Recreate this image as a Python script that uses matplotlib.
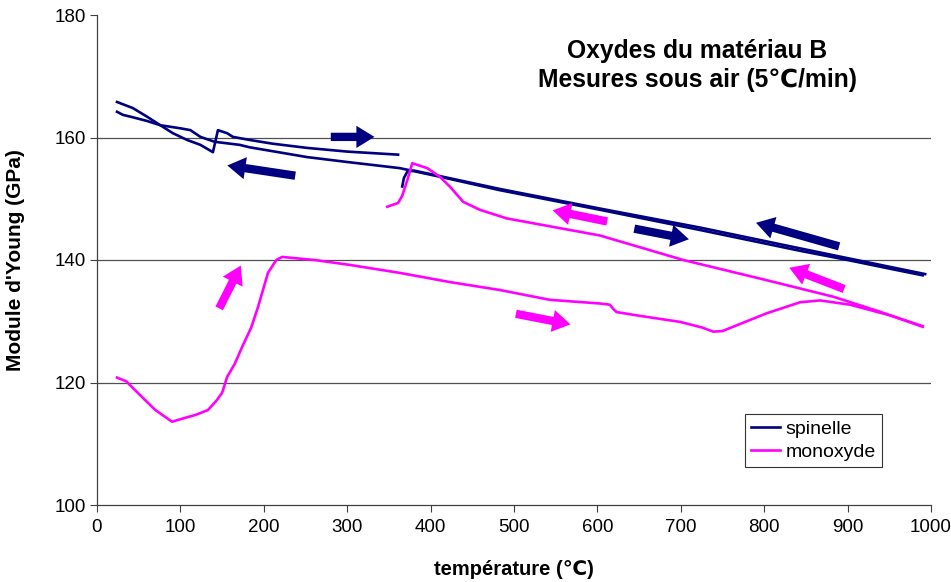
import matplotlib
matplotlib.use("Agg")
import matplotlib.pyplot as plt
from matplotlib.patches import FancyArrowPatch

plt.rcParams['font.family'] = ['Liberation Sans', 'DejaVu Sans']

# ---- data ----
sp_heat1_T = [24, 43, 60, 76, 91, 108, 124, 139, 145, 156, 163, 183, 210, 252, 300, 361]
sp_heat1_E = [165.8, 164.8, 163.4, 162.0, 160.7, 159.6, 158.8, 157.6, 161.2, 160.7, 160.1, 159.6, 159.0, 158.3, 157.7, 157.2]

sp_heat2_T = [366, 368, 372, 380, 411, 483, 603, 723, 843, 900, 950, 993]
sp_heat2_E = [152.0, 153.4, 154.4, 154.6, 153.7, 151.6, 148.4, 145.3, 141.9, 140.3, 138.9, 137.7]

sp_cool_T = [24, 31, 43, 60, 76, 100, 112, 124, 141, 171, 183, 252, 300, 363, 411, 483, 603, 723, 843, 900, 950, 990]
sp_cool_E = [164.2, 163.7, 163.3, 162.7, 162.0, 161.5, 161.2, 160.1, 159.3, 158.8, 158.4, 156.8, 156.0, 155.0, 153.6, 151.4, 148.2, 144.9, 141.5, 140.0, 138.6, 137.5]

mo_heat_T = [24, 35, 49, 70, 90, 105, 118, 133, 143, 150, 156, 165, 174, 185, 193, 205, 215, 222, 237, 261,
             303, 363, 423, 483, 543, 603, 615, 619, 623, 650, 699, 725, 739, 750, 759, 803, 843, 867, 903, 950, 990]
mo_heat_E = [120.8, 120.2, 118.3, 115.5, 113.6, 114.2, 114.7, 115.5, 117.0, 118.3, 120.9, 123.0, 125.8, 129.0, 132.3,
             137.9, 140.0, 140.5, 140.3, 140.0, 139.2, 137.9, 136.4, 135.1, 133.5, 132.9, 132.7, 132.0, 131.5, 130.9,
             129.9, 129.0, 128.3, 128.4, 128.9, 131.3, 133.1, 133.4, 132.7, 131.0, 129.2]

mo_cool_T = [348, 361, 366, 372, 378, 396, 411, 423, 439, 459, 491, 543, 603, 703, 803, 883, 940, 990]
mo_cool_E = [148.7, 149.3, 150.5, 153.0, 155.8, 155.0, 153.6, 152.0, 149.5, 148.2, 146.8, 145.5, 144.0, 140.0, 136.7, 134.0, 131.5, 129.1]

# direction arrows (tail T, tail E, head T, head E, colour key)
arrows = [
    (277, 160.1, 336, 160.1, 'sp'),
    (241, 153.7, 153, 155.5, 'sp'),
    (641, 145.2, 713, 143.3, 'sp'),
    (893, 142.1, 787, 146.2, 'sp'),
    (145, 131.7, 174, 139.5, 'mo'),
    (615, 146.2, 543, 148.2, 'mo'),
    (899, 135.1, 827, 138.9, 'mo'),
    (499, 131.3, 571, 129.4, 'mo'),
]

colors = {'sp': '#000080', 'mo': '#FF00FF'}

fig = plt.figure(figsize=(9.51, 5.82), dpi=100)
ax = fig.add_axes([97/951, 77/582, 834/951, 490/582])

lw = 1.9
ax.plot(sp_heat1_T, sp_heat1_E, color=colors['sp'], lw=lw, label='spinelle', zorder=3)
ax.plot(sp_heat2_T, sp_heat2_E, color=colors['sp'], lw=lw, zorder=3)
ax.plot(sp_cool_T, sp_cool_E, color=colors['sp'], lw=lw, zorder=3)
ax.plot(mo_heat_T, mo_heat_E, color=colors['mo'], lw=lw, label='monoxyde', zorder=3)
ax.plot(mo_cool_T, mo_cool_E, color=colors['mo'], lw=lw, zorder=3)

for t0, e0, t1, e1, k in arrows:
    a = FancyArrowPatch((t0, e0), (t1, e1),
                        arrowstyle='simple,head_length=13,head_width=16,tail_width=6',
                        mutation_scale=1, color=colors[k], lw=0, zorder=4)
    ax.add_patch(a)

ax.set_xlim(0, 1000)
ax.set_ylim(100, 180)
ax.set_xticks(range(0, 1001, 100))
ax.set_yticks(range(100, 181, 20))
ax.tick_params(axis='both', direction='out', length=5, width=0.8, color='#404040', labelsize=13.5)
ax.tick_params(axis='x', pad=5)
ax.tick_params(axis='y', pad=3)
for s in ['top', 'right']:
    ax.spines[s].set_visible(False)
for s in ['left', 'bottom']:
    ax.spines[s].set_color('#404040')
    ax.spines[s].set_linewidth(0.9)
for y in [120, 140, 160]:
    ax.axhline(y, color='#505050', lw=0.9, zorder=1)

ax.set_xlabel('température (℃)', fontsize=14.5, fontweight='bold')
ax.set_ylabel("Module d'Young (GPa)", fontsize=15, fontweight='bold')
ax.xaxis.set_label_coords(0.5, -0.112)
ax.yaxis.set_label_coords(-0.086, 0.5)

ax.text(0.72, 0.897, 'Oxydes du matériau B\nMesures sous air (5℃/min)', transform=ax.transAxes,
        ha='center', va='center', fontsize=17.7, fontweight='bold', linespacing=1.3)

leg = ax.legend(loc='lower left', bbox_to_anchor=(0.777, 0.078), fancybox=False, frameon=True,
                edgecolor='black', fontsize=14, handlelength=1.5, borderpad=0.3, labelspacing=0.3,
                handletextpad=0.3, borderaxespad=0)
leg.get_frame().set_linewidth(0.8)

fig.savefig('out.png', dpi=100)
